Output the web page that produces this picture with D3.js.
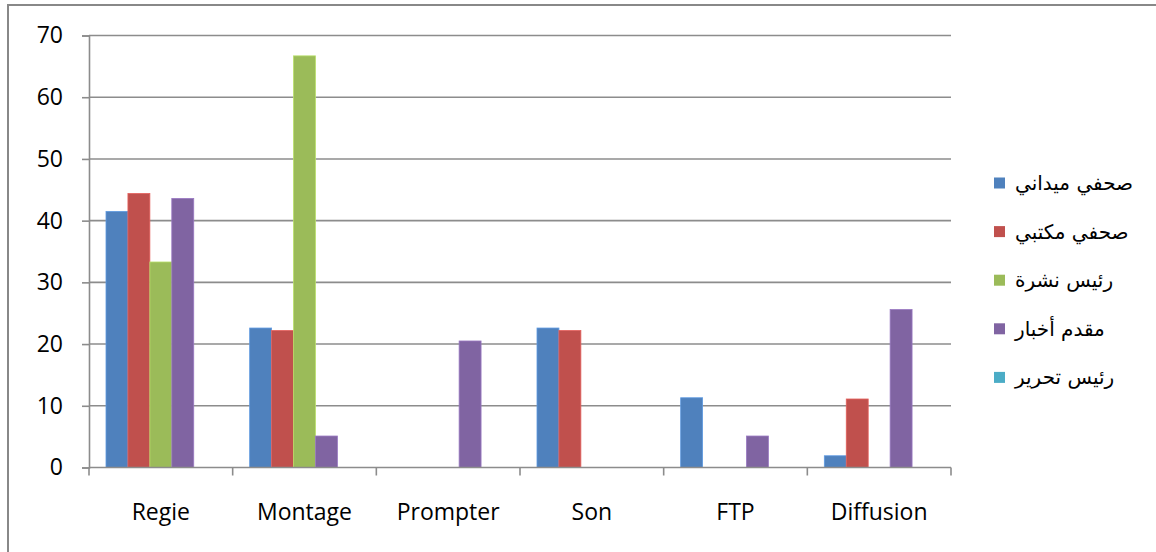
<!DOCTYPE html>
<html>
<head>
<meta charset="utf-8">
<script src="https://cdn.jsdelivr.net/npm/d3@7/dist/d3.min.js"></script>
<style>
  html, body { margin: 0; padding: 0; background: #fff; }
  svg { display: block; }
</style>
</head>
<body>
<svg id="chart" width="1156" height="552"></svg>
<script>
// Task categories along the x axis
const categories = ["Regie", "Montage", "Prompter", "Son", "FTP", "Diffusion"];

// Job roles (legend order)
const seriesNames = ["صحفي ميداني", "صحفي مكتبي", "رئيس نشرة", "مقدم أخبار", "رئيس تحرير"];
const seriesColors = ["#4F81BD", "#C0504D", "#9BBB59", "#8064A2", "#4BACC6"];

// Percentages per role, one value per category
const fieldJournalist = [41.5, 22.6, 0, 22.6, 11.3, 1.9];
const deskJournalist  = [44.4, 22.2, 0, 22.2, 0, 11.1];
const bulletinChief   = [33.3, 66.7, 0, 0, 0, 0];
const newsPresenter   = [43.6, 5.1, 20.5, 0, 5.1, 25.6];
const editorInChief   = [0, 0, 0, 0, 0, 0];

const yTicks = [0, 10, 20, 30, 40, 50, 60, 70];

const seriesValues = [fieldJournalist, deskJournalist, bulletinChief, newsPresenter, editorInChief];

const svg = d3.select("#chart");

// outer chart frame
svg.append("rect")
  .attr("x", 8).attr("y", 5)
  .attr("width", 1160).attr("height", 560)
  .attr("fill", "#fff")
  .attr("stroke", "#888").attr("stroke-width", 2);

const plot = { left: 89, right: 951, top: 35.5, bottom: 467.5 };

const x0 = d3.scaleBand().domain(categories).range([plot.left, plot.right]).padding(0);
const groupPad = 17;
const x1 = d3.scaleBand().domain(d3.range(seriesNames.length))
  .range([groupPad, x0.bandwidth() - groupPad]).padding(0);
const y = d3.scaleLinear().domain([0, 70]).range([plot.bottom, plot.top]);

const gridColor = "#8c8c8c";
const labelFont = "'Open Sans', Lato, sans-serif";
const labelSize = 23;

// horizontal gridlines
svg.append("g")
  .selectAll("line")
  .data(yTicks.filter(d => d > 0))
  .join("line")
  .attr("x1", plot.left).attr("x2", plot.right)
  .attr("y1", d => y(d)).attr("y2", d => y(d))
  .attr("stroke", gridColor).attr("stroke-width", 1.6);

// y axis
const yAxis = svg.append("g")
  .attr("transform", `translate(${plot.left},0)`)
  .call(d3.axisLeft(y).tickValues(yTicks).tickSize(7).tickPadding(19).tickFormat(d3.format("d")));
yAxis.select(".domain").attr("stroke", gridColor).attr("stroke-width", 1.6);
yAxis.selectAll(".tick line").attr("stroke", gridColor).attr("stroke-width", 1.6);
yAxis.selectAll(".tick text")
  .attr("font-family", labelFont).attr("font-size", labelSize).attr("fill", "#000");

// bars
const groups = svg.append("g")
  .selectAll("g")
  .data(categories)
  .join("g")
  .attr("transform", d => `translate(${x0(d)},0)`);

groups.selectAll("rect")
  .data((c, ci) => seriesValues.map((vals, si) => ({ si, v: vals[ci] })).filter(d => d.v > 0))
  .join("rect")
  .attr("x", d => x1(d.si))
  .attr("y", d => y(d.v))
  .attr("width", x1.bandwidth())
  .attr("height", d => y(0) - y(d.v))
  .attr("fill", d => seriesColors[d.si])
  .attr("stroke", d => d3.color(seriesColors[d.si]).brighter(0.5))
  .attr("stroke-width", 0.8);

// x axis
const xAxis = svg.append("g")
  .attr("transform", `translate(0,${plot.bottom})`);
xAxis.append("line")
  .attr("x1", plot.left).attr("x2", plot.right)
  .attr("stroke", gridColor).attr("stroke-width", 1.6);
xAxis.selectAll("line.tick")
  .data(categories.map(c => x0(c)).concat([plot.right]))
  .join("line")
  .attr("class", "tick")
  .attr("x1", d => d).attr("x2", d => d)
  .attr("y1", 0).attr("y2", 8)
  .attr("stroke", gridColor).attr("stroke-width", 1.6);
xAxis.selectAll("text")
  .data(categories)
  .join("text")
  .attr("x", d => x0(d) + x0.bandwidth() / 2)
  .attr("y", 52)
  .attr("text-anchor", "middle")
  .attr("font-family", labelFont).attr("font-size", labelSize).attr("fill", "#000")
  .text(d => d);

// legend
const legend = svg.append("g")
  .selectAll("g")
  .data(seriesNames)
  .join("g")
  .attr("transform", (d, i) => `translate(994,${183 + i * 48.6})`);
legend.append("rect")
  .attr("x", 0).attr("y", -5.5)
  .attr("width", 11).attr("height", 11)
  .attr("fill", (d, i) => seriesColors[i]);
legend.append("text")
  .attr("x", 21).attr("y", 0)
  .attr("dominant-baseline", "central")
  .attr("font-family", "'DejaVu Sans', sans-serif")
  .attr("font-size", 20).attr("fill", "#000")
  .text(d => d);
</script>
</body>
</html>
